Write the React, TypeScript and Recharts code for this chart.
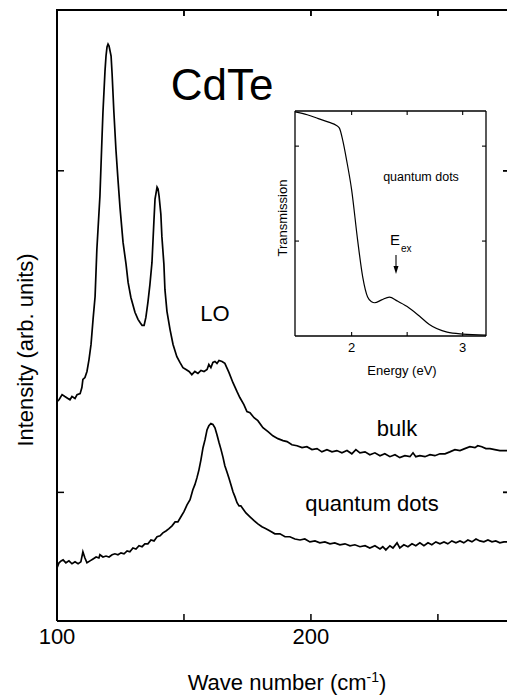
import React from 'react';
import { LineChart, Line, XAxis, YAxis } from 'recharts';

// Raman spectra (wave number in cm^-1, intensity in arb. units)
const bulkWave = [100.0, 100.8, 102.0, 103.1, 104.3, 105.1, 105.9, 107.1, 107.9, 109.1, 109.8, 110.2, 111.0, 111.8, 112.6, 113.4, 114.2, 115.0, 115.7, 116.9, 117.7, 118.1, 118.9, 119.3, 119.7, 120.1, 120.5, 121.3, 121.7, 122.4, 123.2, 124.0, 124.8, 126.0, 127.2, 128.0, 129.1, 130.7, 131.9, 132.7, 133.5, 134.3, 135.0, 135.8, 136.6, 137.4, 138.2, 138.6, 139.4, 139.8, 140.2, 140.9, 141.3, 142.1, 142.5, 143.3, 144.5, 145.7, 147.2, 148.4, 149.6, 150.8, 152.0, 153.1, 154.3, 155.5, 156.7, 157.9, 159.1, 159.8, 160.6, 161.4, 162.2, 163.0, 163.8, 165.0, 166.1, 167.7, 169.3, 170.9, 172.0, 173.6, 174.8, 176.0, 177.6, 179.1, 181.1, 183.1, 185.0, 187.0, 189.0, 190.6, 192.5, 194.5, 196.5, 198.4, 200.4, 202.4, 204.3, 206.3, 208.3, 210.2, 212.2, 214.2, 216.1, 217.7, 219.3, 221.3, 223.2, 225.2, 227.2, 229.1, 231.1, 233.1, 235.0, 237.0, 239.0, 240.2, 241.3, 242.9, 244.9, 246.9, 248.8, 250.8, 252.8, 254.7, 256.7, 258.7, 260.6, 262.6, 264.6, 265.7, 267.3, 268.9, 270.5, 272.4, 274.4, 277.2, 278.0];
const bulkIntensity = [128.2, 128.8, 130.4, 129.8, 129.2, 128.8, 129.8, 129.2, 130.4, 130.7, 132.6, 135.1, 135.7, 137.6, 141.3, 146.0, 153.8, 160.9, 175.6, 192.1, 209.8, 218.3, 231.0, 235.7, 238.5, 239.4, 238.8, 235.7, 230.1, 218.3, 206.7, 197.4, 188.7, 177.8, 170.9, 165.3, 160.6, 156.0, 153.8, 152.8, 151.9, 151.9, 154.4, 159.1, 164.7, 171.5, 184.9, 191.2, 194.9, 194.3, 192.1, 186.5, 179.6, 170.9, 163.1, 156.3, 150.7, 146.0, 142.2, 140.4, 138.8, 138.2, 137.6, 136.6, 137.6, 137.0, 137.9, 137.6, 138.2, 139.8, 138.8, 140.4, 140.7, 140.1, 141.0, 140.7, 140.1, 137.3, 134.1, 131.3, 129.5, 127.3, 125.1, 124.8, 123.2, 122.3, 120.1, 118.9, 117.6, 116.7, 116.1, 115.8, 114.8, 114.5, 113.9, 114.2, 113.3, 113.6, 112.6, 113.3, 112.6, 113.0, 112.3, 113.0, 112.0, 113.3, 112.3, 112.6, 111.7, 112.3, 111.4, 112.0, 111.1, 111.7, 110.8, 111.4, 111.1, 112.3, 111.1, 111.4, 111.1, 111.7, 111.4, 112.0, 112.0, 112.6, 113.3, 113.0, 113.6, 114.2, 113.9, 114.5, 114.2, 113.6, 113.6, 113.3, 113.0, 113.0, 113.0];

const qdWave = [100.0, 100.8, 101.6, 102.4, 103.5, 104.7, 105.9, 107.1, 108.3, 109.4, 110.2, 111.0, 111.8, 113.0, 114.2, 115.4, 116.5, 116.9, 118.1, 119.3, 120.5, 121.7, 122.8, 124.0, 125.2, 126.4, 127.6, 128.7, 129.9, 131.1, 132.3, 133.5, 134.6, 135.8, 137.0, 138.2, 139.4, 140.6, 141.7, 142.9, 144.1, 145.3, 146.5, 147.6, 148.8, 150.0, 151.2, 152.4, 153.5, 154.3, 155.1, 155.9, 156.7, 157.5, 158.3, 159.1, 159.8, 160.6, 161.4, 162.2, 163.0, 163.8, 164.6, 165.4, 166.1, 166.9, 167.7, 168.5, 169.3, 170.1, 170.9, 171.7, 172.4, 173.2, 174.4, 176.0, 177.6, 179.1, 180.7, 182.3, 183.9, 185.8, 187.8, 189.8, 191.7, 193.7, 195.7, 197.6, 199.6, 201.6, 203.5, 205.5, 207.5, 209.4, 211.4, 213.4, 215.4, 217.3, 219.3, 221.3, 223.2, 225.2, 227.2, 228.3, 229.5, 231.1, 232.3, 233.9, 235.0, 236.6, 238.2, 239.8, 241.3, 242.9, 244.5, 246.1, 247.6, 249.2, 250.8, 252.4, 253.9, 255.5, 257.1, 258.7, 260.2, 261.8, 263.4, 265.0, 266.5, 268.1, 269.7, 271.3, 272.8, 274.4, 276.0, 278.0];
const qdIntensity = [76.5, 78.1, 78.7, 79.0, 78.1, 78.7, 77.8, 78.4, 77.8, 78.4, 81.5, 79.6, 78.1, 78.7, 79.3, 79.9, 79.6, 80.6, 79.9, 80.2, 79.9, 80.6, 80.9, 80.6, 81.2, 80.9, 81.8, 81.5, 82.7, 82.4, 83.4, 83.1, 84.0, 84.0, 85.2, 84.9, 86.2, 86.5, 87.4, 88.0, 88.7, 89.6, 90.8, 90.8, 92.4, 94.0, 96.1, 97.7, 100.8, 102.4, 104.5, 107.0, 110.2, 113.9, 116.4, 119.5, 120.7, 121.4, 121.1, 120.1, 117.9, 115.5, 113.3, 110.8, 108.3, 106.4, 104.5, 102.4, 100.2, 98.6, 96.8, 95.8, 95.8, 94.9, 93.6, 92.4, 91.2, 90.2, 89.3, 88.7, 88.0, 87.1, 87.1, 86.2, 86.2, 85.5, 85.2, 85.5, 84.6, 84.9, 84.3, 84.6, 84.0, 84.3, 83.7, 84.0, 83.4, 83.7, 83.1, 83.4, 82.7, 83.4, 82.4, 83.1, 82.1, 83.4, 82.7, 84.3, 82.7, 83.7, 83.1, 84.0, 83.4, 84.3, 83.4, 84.3, 83.7, 84.6, 84.0, 84.6, 84.0, 84.9, 84.3, 84.9, 84.3, 85.2, 84.6, 85.5, 84.9, 84.6, 85.2, 84.6, 84.9, 84.3, 84.6, 84.6];

// Inset: transmission of quantum dots vs energy (eV)
const insetEnergy = [1.49, 1.6, 1.7, 1.8, 1.86, 1.89, 1.92, 1.955, 2.0, 2.054, 2.1, 2.144, 2.18, 2.207, 2.27, 2.34, 2.41, 2.5, 2.61, 2.7, 2.86, 3.0, 3.21];
const insetTransmission = [2.36, 2.33, 2.29, 2.25, 2.22, 2.19, 2.06, 1.85, 1.54, 1.01, 0.62, 0.41, 0.36, 0.35, 0.38, 0.41, 0.37, 0.31, 0.21, 0.12, 0.04, 0.02, 0.01];

const mainXDomain = [100, 278];
const mainYDomain = [60, 250];
const mainXTicks = [100, 150, 200, 250];
const mainXLabels = [100, 200];
const mainYTicks = [100, 200];
const insetXTicks = [2, 2.5, 3];
const insetXLabels = [2, 3];
const insetYTicks = [1, 2];

const bulkData = bulkWave.map((w, i) => ({ w, I: bulkIntensity[i] }));
const qdData = qdWave.map((w, i) => ({ w, I: qdIntensity[i] }));
const insetData = insetEnergy.map((e, i) => ({ e, t: insetTransmission[i] }));
const insetFrameData = insetEnergy.map((e, i) => ({ e, t: insetTransmission[i] }));

// main plot frame (page pixels) used for the frame's top side and right-side ticks
const PLOT = { left: 57, right: 509, top: 10, bottom: 621 };
const fx = (v: number) => PLOT.left + ((v - mainXDomain[0]) / (mainXDomain[1] - mainXDomain[0])) * (PLOT.right - PLOT.left);
const fy = (v: number) => PLOT.bottom - ((v - mainYDomain[0]) / (mainYDomain[1] - mainYDomain[0])) * (PLOT.bottom - PLOT.top);

const FONT = '"Liberation Sans", Arial, Helvetica, sans-serif';
const axisLine = { stroke: '#000', strokeWidth: 2 };
const tickLine = { stroke: '#000', strokeWidth: 1.5 };
const inAxisLine = { stroke: '#000', strokeWidth: 1.3 };
const inTickLine = { stroke: '#000', strokeWidth: 1.1 };

export default function App() {
  return (
    <div style={{ position: 'absolute', left: 0, top: 0, width: 507, height: 696, overflow: 'hidden', background: '#fff', fontFamily: FONT }}>
      <div style={{ position: 'absolute', left: 0, top: -30 }}>
        <LineChart width={560} height={726} margin={{ top: 10, right: 21, left: 47, bottom: 35 }}>
          <XAxis xAxisId="mb" type="number" dataKey="w" domain={mainXDomain} allowDataOverflow ticks={mainXTicks}
            tickFormatter={(v: number) => (mainXLabels.includes(v) ? String(v) : '')}
            orientation="bottom" height={40} tickSize={-7} tickMargin={14}
            axisLine={axisLine} tickLine={tickLine} tick={{ fill: '#000', fontSize: 22, fontFamily: FONT }} interval={0} />
          <XAxis xAxisId="mt" type="number" dataKey="w" domain={mainXDomain} allowDataOverflow ticks={mainXTicks}
            orientation="top" height={30} tickSize={-6} tickMargin={14} tickFormatter={() => ''}
            axisLine={axisLine} tickLine={tickLine} interval={0} />
          <YAxis yAxisId="ml" type="number" dataKey="I" domain={mainYDomain} allowDataOverflow ticks={mainYTicks}
            orientation="left" width={10} tickSize={-7} tickMargin={2} tickFormatter={() => ''}
            axisLine={axisLine} tickLine={tickLine} interval={0} />
          <YAxis yAxisId="mr" type="number" dataKey="I" domain={mainYDomain} allowDataOverflow ticks={mainYTicks}
            orientation="right" width={30} tickSize={-6} tickMargin={14} tickFormatter={() => ''}
            axisLine={axisLine} tickLine={tickLine} interval={0} />
          <Line data={bulkData} xAxisId="mb" yAxisId="ml" dataKey="I" type="linear" stroke="#000" strokeWidth={1.7} dot={false} isAnimationActive={false} />
          <Line data={qdData} xAxisId="mt" yAxisId="mr" dataKey="I" type="linear" stroke="#000" strokeWidth={1.7} dot={false} isAnimationActive={false} />
        </LineChart>
      </div>

      <div style={{ position: 'absolute', left: 240, top: 95 }}>
        <LineChart width={260} height={300} margin={{ top: 6, right: 4, left: 45, bottom: 29 }}>
          <XAxis xAxisId="ib" type="number" dataKey="e" domain={[1.49, 3.21]} allowDataOverflow ticks={insetXTicks}
            tickFormatter={(v: number) => (insetXLabels.includes(v) ? String(v) : '')}
            orientation="bottom" height={30} tickSize={-4} tickMargin={11}
            axisLine={inAxisLine} tickLine={inTickLine} tick={{ fill: '#000', fontSize: 13, fontFamily: FONT }} interval={0} />
          <XAxis xAxisId="it" type="number" dataKey="e" domain={[1.49, 3.21]} allowDataOverflow ticks={insetXTicks}
            orientation="top" height={10} tickSize={-4} tickMargin={2} tickFormatter={() => ''}
            axisLine={inAxisLine} tickLine={inTickLine} interval={0} />
          <YAxis yAxisId="il" type="number" dataKey="t" domain={[0, 2.37]} allowDataOverflow ticks={insetYTicks}
            orientation="left" width={10} tickSize={-4} tickMargin={2} tickFormatter={() => ''}
            axisLine={inAxisLine} tickLine={inTickLine} interval={0} />
          <YAxis yAxisId="ir" type="number" dataKey="t" domain={[0, 2.37]} allowDataOverflow ticks={insetYTicks}
            orientation="right" width={10} tickSize={-4} tickMargin={2} tickFormatter={() => ''}
            axisLine={inAxisLine} tickLine={inTickLine} interval={0} />
          <Line data={insetFrameData} xAxisId="it" yAxisId="ir" dataKey="t" type="monotone" stroke="none" strokeWidth={0} dot={false} isAnimationActive={false} />
          <Line data={insetData} xAxisId="ib" yAxisId="il" dataKey="t" type="monotone" stroke="#000" strokeWidth={1.2} dot={false} isAnimationActive={false} />
        </LineChart>
      </div>

      <svg width={507} height={696} style={{ position: 'absolute', left: 0, top: 0, pointerEvents: 'none' }} fontFamily={FONT}>
        {/* frame: top side with inward ticks, right-side inward ticks */}
        <line x1={PLOT.left - 1} y1={PLOT.top} x2={PLOT.right} y2={PLOT.top} stroke="#000" strokeWidth={2} />
        {mainXTicks.filter((t) => t > mainXDomain[0]).map((t) => (
          <line key={'tt' + t} x1={fx(t)} y1={PLOT.top} x2={fx(t)} y2={PLOT.top + 6} stroke="#000" strokeWidth={1.5} />
        ))}
        {mainYTicks.map((t) => (
          <line key={'rt' + t} x1={PLOT.right} y1={fy(t)} x2={PLOT.right - 6} y2={fy(t)} stroke="#000" strokeWidth={1.5} />
        ))}

        <text x={222} y={100} fontSize={44} textAnchor="middle" fill="#000">CdTe</text>
        <text x={215} y={321} fontSize={22} textAnchor="middle" fill="#000">LO</text>
        <text x={397} y={436} fontSize={22} textAnchor="middle" fill="#000">bulk</text>
        <text x={372} y={511} fontSize={22} textAnchor="middle" fill="#000">quantum dots</text>
        <text x={287} y={690} fontSize={22} textAnchor="middle" fill="#000">
          Wave number (cm<tspan fontSize={14} dy={-8}>-1</tspan><tspan dy={8}>)</tspan>
        </text>
        <text x={33} y={350} fontSize={22} textAnchor="middle" fill="#000" transform="rotate(-90 33 350)">Intensity (arb. units)</text>

        <text x={421} y={181} fontSize={12.5} textAnchor="middle" fill="#000">quantum dots</text>
        <text x={390} y={245} fontSize={15} fill="#000">E</text>
        <text x={401} y={252} fontSize={10} fill="#000">ex</text>
        <line x1={396} y1={255} x2={396} y2={270} stroke="#000" strokeWidth={1.1} />
        <path d="M393.5,266 L396,274 L398.5,266 Z" fill="#000" />
        <text x={402} y={375} fontSize={13} textAnchor="middle" fill="#000">Energy (eV)</text>
        <text x={287} y={218} fontSize={13} textAnchor="middle" fill="#000" transform="rotate(-90 287 218)">Transmission</text>
      </svg>
    </div>
  );
}
